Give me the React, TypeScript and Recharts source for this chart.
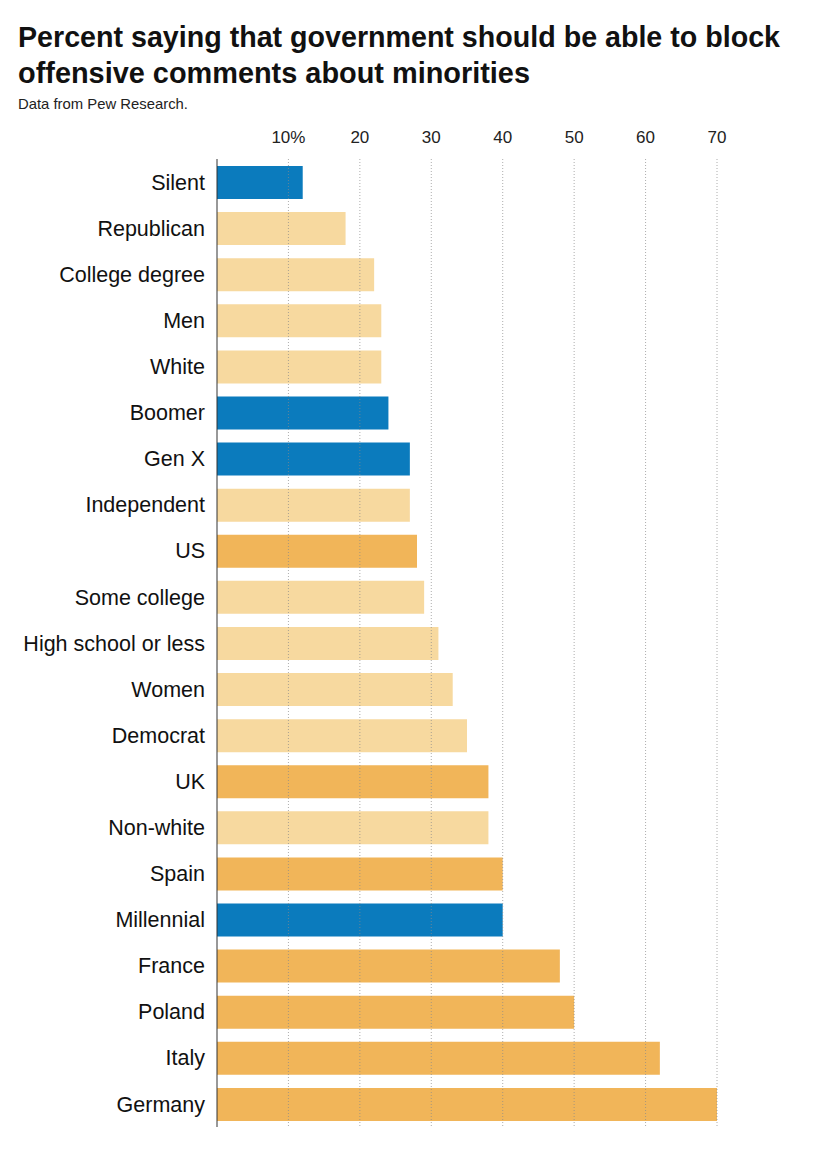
import React from "react";
import { BarChart, Bar, XAxis, YAxis, Cell, ReferenceLine } from "recharts";

const categories = [
  "Silent", "Republican", "College degree", "Men", "White", "Boomer", "Gen X",
  "Independent", "US", "Some college", "High school or less", "Women", "Democrat",
  "UK", "Non-white", "Spain", "Millennial", "France", "Poland", "Italy", "Germany",
];
const values = [12, 18, 22, 23, 23, 24, 27, 27, 28, 29, 31, 33, 35, 38, 38, 40, 40, 48, 50, 62, 70];
const groups = [
  "generation", "demographic", "demographic", "demographic", "demographic", "generation", "generation",
  "demographic", "country", "demographic", "demographic", "demographic", "demographic",
  "country", "demographic", "country", "generation", "country", "country", "country", "country",
];
const xTicks = [10, 20, 30, 40, 50, 60, 70];

const groupColors: Record<string, string> = {
  generation: "#0b7bbd",
  demographic: "#f7d99f",
  country: "#f1b559",
};

const data = categories.map((name, i) => ({ name, value: values[i], group: groups[i] }));

const labelFont = "'Liberation Sans', Arial, sans-serif";
const narrowFont = "'Liberation Sans Narrow', 'Arial Narrow', 'Liberation Sans', Arial, sans-serif";

export default function App() {
  return (
    <div style={{ position: "absolute", left: 0, top: 0, width: 820, height: 1161, background: "#fff" }}>
      <svg width={820} height={120} style={{ position: "absolute", left: 0, top: 0 }}>
        <text x={18} y={47} fontFamily={narrowFont} fontWeight={700} fontSize={29} fill="#111"
          textLength={762} lengthAdjust="spacingAndGlyphs">
          Percent saying that government should be able to block
        </text>
        <text x={18} y={83} fontFamily={narrowFont} fontWeight={700} fontSize={29} fill="#111"
          textLength={512} lengthAdjust="spacingAndGlyphs">
          offensive comments about minorities
        </text>
        <text x={18} y={109} fontFamily={narrowFont} fontSize={15} fill="#222"
          textLength={170} lengthAdjust="spacingAndGlyphs">
          Data from Pew Research.
        </text>
      </svg>
      <div style={{ position: "absolute", left: 0, top: 0 }}>
        <BarChart
          width={820}
          height={1161}
          data={data}
          layout="vertical"
          margin={{ top: 129, right: 103, bottom: 34, left: 0 }}
          barCategoryGap={13}
        >
          <XAxis
            type="number"
            orientation="top"
            domain={[0, 70]}
            ticks={xTicks}
            height={30}
            axisLine={false}
            tickLine={false}
            tickSize={0}
            tickMargin={16}
            tickFormatter={(v: number) => (v === 10 ? "10%" : String(v))}
            tick={{ fontFamily: narrowFont, fontSize: 17, fill: "#222" }}
            allowDataOverflow
          />
          <YAxis
            type="category"
            dataKey="name"
            width={217}
            axisLine={{ stroke: "#333", strokeWidth: 1 }}
            tickLine={false}
            tickSize={0}
            tickMargin={12}
            tick={{ fontFamily: labelFont, fontSize: 21.5, fill: "#111" }}
            interval={0}
          />
          <Bar dataKey="value" barSize={33} isAnimationActive={false}>
            {data.map((d, i) => (
              <Cell key={i} fill={groupColors[d.group]} />
            ))}
          </Bar>
          {xTicks.map((t) => (
            <ReferenceLine key={t} x={t} stroke="#8a8a8a" strokeOpacity={0.7} strokeWidth={1}
              strokeDasharray="1 2" zIndex={1000} />
          ))}
        </BarChart>
      </div>
    </div>
  );
}
